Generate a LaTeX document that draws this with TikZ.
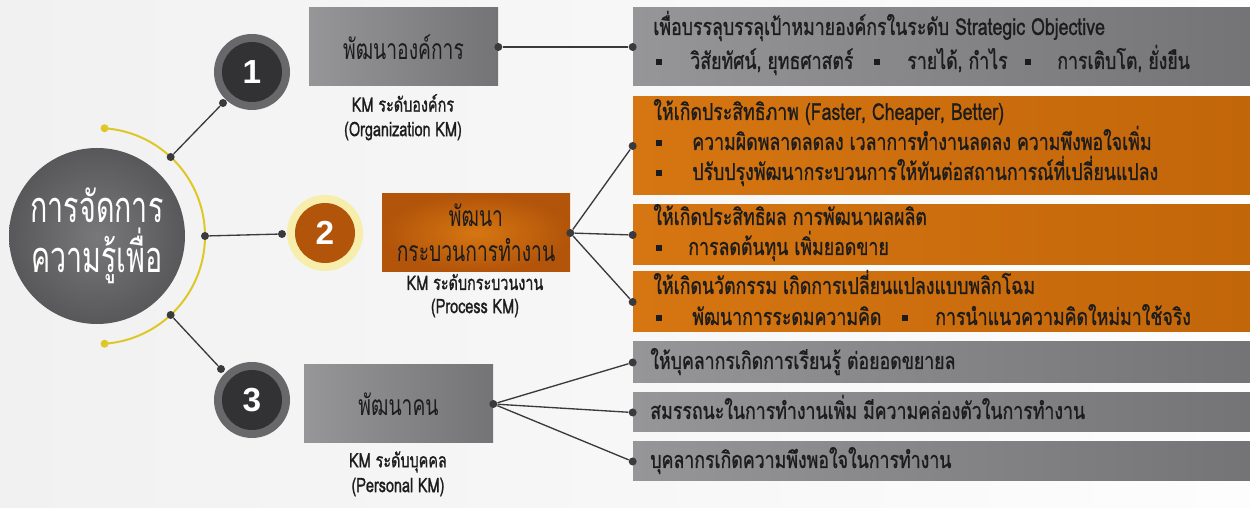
\documentclass[tikz,border=0pt]{standalone}
\usepackage{fontspec}
\setmainfont{Loma}[Script=Thai]
\newfontfamily\thaitxt{Loma}[Script=Thai, FakeStretch=0.76, FakeBold=1]
\newfontfamily\thaibox{Loma}[Script=Thai, FakeStretch=0.68]
\newfontfamily\thaikm{Loma}[Script=Thai, FakeStretch=0.72, FakeBold=1]
\newfontfamily\thaicore{Loma}[Script=Thai, FakeStretch=0.66]
\newfontfamily\numfont{Liberation Sans}
\usetikzlibrary{positioning}

\definecolor{bgLeft}{RGB}{241,241,242}
\definecolor{bgRight}{RGB}{253,253,253}
\definecolor{coreGray}{RGB}{88,88,90}
\definecolor{coreLight}{RGB}{120,120,122}
\definecolor{ringGray}{RGB}{104,104,106}
\definecolor{darkNum}{RGB}{50,50,53}
\definecolor{kmOrange}{RGB}{178,84,10}
\definecolor{glowYellow}{RGB}{247,238,172}
\definecolor{arcYellow}{RGB}{222,200,40}
\definecolor{boxGrayL}{RGB}{150,150,153}
\definecolor{boxGrayR}{RGB}{116,116,119}
\definecolor{boxOrangeL}{RGB}{214,118,18}
\definecolor{boxOrangeR}{RGB}{194,102,10}
\definecolor{lineGray}{RGB}{58,58,60}
\definecolor{txtDark}{RGB}{28,28,28}

\begin{document}
\begin{tikzpicture}[x=0.6pt, y=-0.6pt,
		sz/.style 2 args={minimum width=#1*0.6pt, minimum height=#2*0.6pt},
		graybox/.style={rectangle, inner sep=0pt, left color=boxGrayL, right color=boxGrayR},
		orangebox/.style={rectangle, inner sep=0pt, left color=boxOrangeL, right color=boxOrangeR},
		dot/.style={circle, fill=lineGray, inner sep=0pt, minimum size=4.8pt},
		ydot/.style={circle, fill=arcYellow, inner sep=0pt, minimum size=4.8pt},
		link/.style={lineGray, line width=0.8pt},
		sq/.style={rectangle, fill=txtDark, inner sep=0pt, minimum size=3.8pt},
		numtxt/.style={text=white, font=\numfont\bfseries\fontsize{20pt}{20pt}\selectfont},
		boxlbl/.style={text=txtDark, align=center, font=\thaibox\fontsize{17pt}{21pt}\selectfont},
		kmlbl/.style={text=txtDark, font=\thaikm\fontsize{12pt}{14pt}\selectfont},
		item/.style={text=txtDark, anchor=base west, inner sep=0pt, font=\thaitxt\fontsize{14pt}{16pt}\selectfont}]

		% 1. Background and page size
		\useasboundingbox (0,0) rectangle (1250,508);
		\shade[left color=bgLeft, right color=bgRight] (0,0) rectangle (1250,508);

		% 2. Central circle and yellow arc
		\node[circle, sz={176}{176}, inner color=coreLight, outer color=coreGray] (core) at (97,236) {};
		\node[text=white, align=center, font=\thaicore\fontsize{26pt}{30pt}\selectfont] (coretxt) at (97,236) {การจัดการ\\ความรู้เพื่อ};
		\draw[arcYellow, line width=1.2pt] (core.center) ++(-86:108) arc[start angle=-86, end angle=86, radius=108];
		\path (core.center) ++(-86:108) node[ydot] (yend1) {};
		\path (core.center) ++(86:108) node[ydot] (yend2) {};
		\path (core.center) ++(-47:108) node[dot] (a1) {};
		\path (core.center) ++(0:108) node[dot] (a2) {};
		\path (core.center) ++(47:108) node[dot] (a3) {};

		% 3. Numbered circles
		\node[circle, sz={76}{76}, fill=ringGray] (n1) at (252,72) {};
		\node[circle, sz={60}{60}, fill=darkNum, numtxt] (n1in) at (n1) {1};
		\node[circle, sz={76}{76}, fill=glowYellow] (n2) at (325,233) {};
		\node[circle, sz={60}{60}, fill=kmOrange, numtxt] (n2in) at (n2) {2};
		\node[circle, sz={76}{76}, fill=ringGray] (n3) at (252,400) {};
		\node[circle, sz={60}{60}, fill=darkNum, numtxt] (n3in) at (n3) {3};
		\node[dot] (c1) at (223,103) {};
		\node[dot] (c2) at (282,234) {};
		\node[dot] (c3) at (221,369) {};
		\draw[link] (a1) -- (c1);
		\draw[link] (a2) -- (c2);
		\draw[link] (a3) -- (c3);

		% 4. Level boxes with their KM labels
		\node[graybox, sz={189}{78}, boxlbl] (b1) at (403.5,47) {พัฒนาองค์การ};
		\node[kmlbl] (km1a) at (403,103) {KM ระดับองค์กร};
		\node[kmlbl] (km1b) at (403,131) {(Organization KM)};
		\node[rectangle, inner sep=0pt, sz={188}{78}, inner color=boxOrangeL, outer color=kmOrange, boxlbl] (b2) at (476,233) {พัฒนา\\กระบวนการทำงาน};
		\node[kmlbl] (km2a) at (475,282) {KM ระดับกระบวนงาน};
		\node[kmlbl] (km2b) at (475,308) {(Process KM)};
		\node[graybox, sz={189}{78}, boxlbl] (b3) at (398.5,404) {พัฒนาคน};
		\node[kmlbl] (km3a) at (398,462) {KM ระดับบุคคล};
		\node[kmlbl] (km3b) at (398,487) {(Personal KM)};

		% 5. Goal boxes on the right
		\node[graybox, sz={617}{78}] (r1) at (941.5,47) {};
		\node[orangebox, sz={617}{98}] (r2) at (941.5,146) {};
		\node[orangebox, sz={617}{60}] (r3) at (941.5,235) {};
		\node[orangebox, sz={617}{60}] (r4) at (941.5,302) {};
		\node[graybox, sz={617}{41}] (r5) at (941.5,362.5) {};
		\node[graybox, sz={617}{39}] (r6) at (941.5,412.5) {};
		\node[graybox, sz={617}{39}] (r7) at (941.5,461.5) {};

		% texts of the goal boxes (baseline = line centre + 7)
		\node[item] (t1) at (653,35) {เพื่อบรรลุบรรลุเป้าหมายองค์กรในระดับ Strategic Objective};
		\node[sq] (s1a) at (659,62) {};
		\node[item] (t1a) at (690,69) {วิสัยทัศน์, ยุทธศาสตร์};
		\node[sq] (s1b) at (877,62) {};
		\node[item] (t1b) at (907,69) {รายได้, กำไร};
		\node[sq] (s1c) at (1028,62) {};
		\node[item] (t1c) at (1057,69) {การเติบโต, ยั่งยืน};

		\node[item] (t2) at (653,120) {ให้เกิดประสิทธิภาพ (Faster, Cheaper, Better)};
		\node[sq] (s2a) at (659,143) {};
		\node[item] (t2a) at (692,150) {ความผิดพลาดลดลง เวลาการทำงานลดลง ความพึงพอใจเพิ่ม};
		\node[sq] (s2b) at (659,173) {};
		\node[item] (t2b) at (692,180) {ปรับปรุงพัฒนากระบวนการให้ทันต่อสถานการณ์ที่เปลี่ยนแปลง};

		\node[item] (t3) at (653,225) {ให้เกิดประสิทธิผล การพัฒนาผลผลิต};
		\node[sq] (s3a) at (659,248) {};
		\node[item] (t3a) at (688,255) {การลดต้นทุน เพิ่มยอดขาย};

		\node[item] (t4) at (653,294) {ให้เกิดนวัตกรรม เกิดการเปลี่ยนแปลงแบบพลิกโฉม};
		\node[sq] (s4a) at (659,318) {};
		\node[item] (t4a) at (692,325) {พัฒนาการระดมความคิด};
		\node[sq] (s4b) at (905,318) {};
		\node[item] (t4b) at (935,325) {การนำแนวความคิดใหม่มาใช้จริง};

		\node[item] (t5) at (650,369) {ให้บุคลากรเกิดการเรียนรู้ ต่อยอดขยายล};
		\node[item] (t6) at (650,419) {สมรรถนะในการทำงานเพิ่ม มีความคล่องตัวในการทำงาน};
		\node[item] (t7) at (650,468) {บุคลากรเกิดความพึงพอใจในการทำงาน};

		% 6. Connectors between boxes
		\node[dot] (d1) at (b1.east) {};
		\node[dot] (d2) at (b2.east) {};
		\node[dot] (d3) at (b3.east) {};
		\node[dot] (e1) at (r1.west) {};
		\node[dot] (e2) at (r2.west) {};
		\node[dot] (e3) at (r3.west) {};
		\node[dot] (e4) at (r4.west) {};
		\node[dot] (e5) at (r5.west) {};
		\node[dot] (e6) at (r6.west) {};
		\node[dot] (e7) at (r7.west) {};
		\draw[link] (d1) -- (e1);
		\draw[link] (d2) -- (e2);
		\draw[link] (d2) -- (e3);
		\draw[link] (d2) -- (e4);
		\draw[link] (d3) -- (e5);
		\draw[link] (d3) -- (e6);
		\draw[link] (d3) -- (e7);
	\end{tikzpicture}
\end{document}
